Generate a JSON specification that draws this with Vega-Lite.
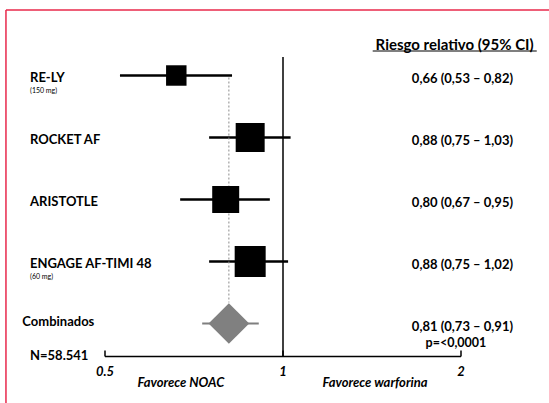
{
  "$schema": "https://vega.github.io/schema/vega-lite/v6.json",
  "width": 549,
  "height": 403,
  "padding": 0,
  "autosize": {"type": "none"},
  "background": "white",
  "config": {"view": {"stroke": null}, "axis": {"disable": true}, "text": {"font": "Lato", "fontWeight": "bold", "color": "black"}},
  "data": {"values": [
    {"kind": "study", "study": "RE-LY", "sub": "(150 mg)", "rr": 0.66, "lo": 0.53, "hi": 0.82, "weight": 14.2, "label": "0,66 (0,53 – 0,82)"},
    {"kind": "study", "study": "ROCKET AF", "rr": 0.88, "lo": 0.75, "hi": 1.03, "weight": 28.5, "label": "0,88 (0,75 – 1,03)"},
    {"kind": "study", "study": "ARISTOTLE", "rr": 0.80, "lo": 0.67, "hi": 0.95, "weight": 24.7, "label": "0,80 (0,67 – 0,95)"},
    {"kind": "study", "study": "ENGAGE AF-TIMI 48", "sub": "(60 mg)", "rr": 0.88, "lo": 0.75, "hi": 1.02, "weight": 32.6, "label": "0,88 (0,75 – 1,02)"},
    {"kind": "pooled", "study": "Combinados", "rr": 0.81, "lo": 0.73, "hi": 0.91, "label": "0,81 (0,73 – 0,91)"},
    {"kind": "tick", "value": 0.5, "tick": "0.5"},
    {"kind": "tick", "value": 1, "tick": "1"},
    {"kind": "tick", "value": 2, "tick": "2"}
  ]},
  "layer": [
    {
      "transform": [{"filter": "datum.kind === 'study'"}],
      "mark": {"type": "rule", "color": "black", "strokeWidth": 2.5},
      "encoding": {
        "x": {"field": "lo", "type": "quantitative", "scale": {"type": "log", "domain": [0.3322, 2.8174], "nice": false}},
        "x2": {"field": "hi"},
        "y": {"field": "study", "type": "nominal", "scale": {"type": "point", "domain": ["RE-LY", "ROCKET AF", "ARISTOTLE", "ENGAGE AF-TIMI 48", "Combinados"], "range": [75.5, 323.5], "padding": 0}}
      }
    },
    {
      "data": {"values": [{}]},
      "mark": {"type": "rule", "color": "black", "strokeWidth": 1.5, "yOffset": -18.5, "y2Offset": 33},
      "encoding": {
        "x": {"datum": 1, "type": "quantitative"},
        "y": {"datum": "RE-LY", "type": "nominal"},
        "y2": {"datum": "Combinados"}
      }
    },
    {
      "data": {"values": [{}]},
      "mark": {"type": "rule", "color": "#8a8a8a", "strokeWidth": 1, "strokeDash": [2, 2], "yOffset": 2, "y2Offset": -21},
      "encoding": {
        "x": {"datum": 0.81, "type": "quantitative"},
        "y": {"datum": "RE-LY", "type": "nominal"},
        "y2": {"datum": "Combinados"}
      }
    },
    {
      "transform": [{"filter": "datum.kind === 'pooled'"}],
      "mark": {"type": "rule", "color": "#7f7f7f", "strokeWidth": 2},
      "encoding": {
        "x": {"field": "lo", "type": "quantitative"},
        "x2": {"field": "hi"},
        "y": {"field": "study", "type": "nominal"}
      }
    },
    {
      "transform": [{"filter": "datum.kind === 'study'"}],
      "mark": {"type": "point", "shape": "square", "filled": true, "color": "black", "opacity": 1},
      "encoding": {
        "x": {"field": "rr", "type": "quantitative"},
        "y": {"field": "study", "type": "nominal"},
        "size": {"field": "weight", "type": "quantitative", "scale": {"domain": [0, 32.6], "range": [0, 961], "zero": true}, "legend": null}
      }
    },
    {
      "transform": [{"filter": "datum.kind === 'pooled'"}],
      "mark": {"type": "point", "shape": "diamond", "filled": true, "color": "#808080", "opacity": 1, "size": 1650},
      "encoding": {
        "x": {"field": "rr", "type": "quantitative"},
        "y": {"field": "study", "type": "nominal"}
      }
    },
    {
      "transform": [{"filter": "datum.kind === 'study'"}],
      "mark": {"type": "text", "align": "left", "baseline": "middle", "fontSize": 13, "dy": 2},
      "encoding": {
        "x": {"datum": 0.3734, "type": "quantitative"},
        "y": {"field": "study", "type": "nominal"},
        "text": {"field": "study"}
      }
    },
    {
      "transform": [{"filter": "datum.kind === 'pooled'"}],
      "mark": {"type": "text", "align": "left", "baseline": "middle", "fontSize": 13, "dy": -2},
      "encoding": {
        "x": {"datum": 0.3624, "type": "quantitative"},
        "y": {"field": "study", "type": "nominal"},
        "text": {"field": "study"}
      }
    },
    {
      "transform": [{"filter": "datum.sub != null"}],
      "mark": {"type": "text", "align": "left", "baseline": "middle", "fontSize": 7, "fontWeight": "normal", "dy": 15},
      "encoding": {
        "x": {"datum": 0.3734, "type": "quantitative"},
        "y": {"field": "study", "type": "nominal"},
        "text": {"field": "sub"}
      }
    },
    {
      "transform": [{"filter": "datum.kind === 'study' || datum.kind === 'pooled'"}],
      "mark": {"type": "text", "align": "right", "baseline": "middle", "fontSize": 13, "dy": 3},
      "encoding": {
        "x": {"datum": 2.449, "type": "quantitative"},
        "y": {"field": "study", "type": "nominal"},
        "text": {"field": "label"}
      }
    },
    {
      "data": {"values": [{}]},
      "mark": {"type": "text", "align": "center", "baseline": "middle", "fontSize": 15, "yOffset": -30.5, "text": "Riesgo relativo  (95% CI)"},
      "encoding": {
        "x": {"datum": 1.951, "type": "quantitative"},
        "y": {"datum": "RE-LY", "type": "nominal"}
      }
    },
    {
      "data": {"values": [{}]},
      "mark": {"type": "rule", "color": "black", "strokeWidth": 1.2, "yOffset": -24.5},
      "encoding": {
        "x": {"datum": 1.418, "type": "quantitative"},
        "x2": {"datum": 2.686},
        "y": {"datum": "RE-LY", "type": "nominal"}
      }
    },
    {
      "data": {"values": [{}]},
      "mark": {"type": "rule", "color": "black", "strokeWidth": 1.5, "yOffset": 33},
      "encoding": {
        "x": {"datum": 0.5, "type": "quantitative"},
        "x2": {"datum": 2},
        "y": {"datum": "Combinados", "type": "nominal"}
      }
    },
    {
      "transform": [{"filter": "datum.kind === 'tick'"}],
      "mark": {"type": "rule", "color": "black", "strokeWidth": 1.5, "yOffset": 27, "y2Offset": 33},
      "encoding": {
        "x": {"field": "value", "type": "quantitative"},
        "y": {"datum": "Combinados", "type": "nominal"},
        "y2": {"datum": "Combinados"}
      }
    },
    {
      "transform": [{"filter": "datum.kind === 'tick'"}],
      "mark": {"type": "text", "align": "center", "baseline": "middle", "fontSize": 13, "fontStyle": "italic", "yOffset": 48.5},
      "encoding": {
        "x": {"field": "value", "type": "quantitative"},
        "y": {"datum": "Combinados", "type": "nominal"},
        "text": {"field": "tick"}
      }
    },
    {
      "data": {"values": [{}]},
      "mark": {"type": "text", "align": "center", "baseline": "middle", "fontSize": 13, "fontStyle": "italic", "yOffset": 59.5, "text": "Favorece NOAC"},
      "encoding": {
        "x": {"datum": 0.672, "type": "quantitative"},
        "y": {"datum": "Combinados", "type": "nominal"}
      }
    },
    {
      "data": {"values": [{}]},
      "mark": {"type": "text", "align": "center", "baseline": "middle", "fontSize": 13, "fontStyle": "italic", "yOffset": 59.5, "text": "Favorece warforina"},
      "encoding": {
        "x": {"datum": 1.431, "type": "quantitative"},
        "y": {"datum": "Combinados", "type": "nominal"}
      }
    },
    {
      "data": {"values": [{}]},
      "mark": {"type": "text", "align": "left", "baseline": "middle", "fontSize": 13, "yOffset": 32, "text": "N=58.541"},
      "encoding": {
        "x": {"datum": 0.3734, "type": "quantitative"},
        "y": {"datum": "Combinados", "type": "nominal"}
      }
    },
    {
      "data": {"values": [{}]},
      "mark": {"type": "text", "align": "center", "baseline": "middle", "fontSize": 12.5, "yOffset": 19.5, "text": "p=<0,0001"},
      "encoding": {
        "x": {"datum": 1.961, "type": "quantitative"},
        "y": {"datum": "Combinados", "type": "nominal"}
      }
    },
    {
      "data": {"values": [{}]},
      "mark": {"type": "rule", "color": "#e8294b", "strokeWidth": 1.5, "yOffset": -65.5, "y2Offset": 80},
      "encoding": {
        "x": {"datum": 0.34, "type": "quantitative"},
        "y": {"datum": "RE-LY", "type": "nominal"},
        "y2": {"datum": "Combinados"}
      }
    },
    {
      "data": {"values": [{}]},
      "mark": {"type": "rule", "color": "#e8294b", "strokeWidth": 1.5, "yOffset": -65.5},
      "encoding": {
        "x": {"datum": 0.34, "type": "quantitative"},
        "x2": {"datum": 2.8174},
        "y": {"datum": "RE-LY", "type": "nominal"}
      }
    }
  ]
}
